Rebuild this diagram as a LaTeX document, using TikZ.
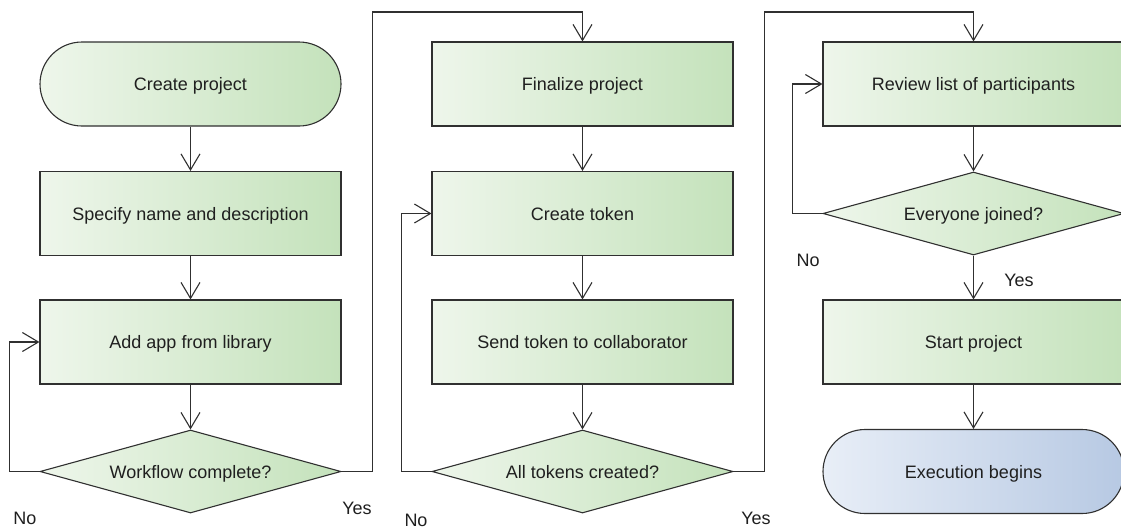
\documentclass[tikz,border=0pt]{standalone}
\usepackage{fontspec}
\setmainfont{Liberation Sans}
\usetikzlibrary{shapes.geometric,arrows.meta}
\definecolor{edge}{HTML}{303030}
\definecolor{gL}{HTML}{EEF6EB}
\definecolor{gR}{HTML}{C4E2BB}
\definecolor{bL}{HTML}{E8EEF7}
\definecolor{bR}{HTML}{B7C9E3}
\tikzset{
  base/.style={draw=edge, line width=1.1pt, font=\fontsize{18}{21}\selectfont,
    text=black!88, inner sep=0pt, text height=13pt, text depth=0pt},
  process/.style={base, rectangle, minimum width=301pt, minimum height=84pt,
    left color=gL, right color=gR},
  terminal/.style={base, rectangle, rounded corners=42pt, minimum width=301pt,
    minimum height=84pt, left color=gL, right color=gR},
  endterm/.style={terminal, left color=bL, right color=bR},
  decision/.style={base, diamond, aspect=3.63, minimum width=301pt,
    minimum height=83pt, left color=gL, right color=gR},
  flow/.style={draw=edge, line width=1.1pt,
    -{Straight Barb[length=16pt,width=19pt,line width=1.1pt]}},
  lbl/.style={font=\fontsize{18}{21}\selectfont, text=black!88, inner sep=0pt,
    text height=13pt, text depth=0pt}
}
\begin{document}
\begin{tikzpicture}[x=1pt, y=-1pt]
\useasboundingbox (0,0) rectangle (1121,528);
\clip (0,0) rectangle (1121,528);
\fill[white] (0,0) rectangle (1121,528);

% column 1
\node[terminal] (create) at (190.5,84) {Create project};
\node[process] (spec) at (190.5,213.5) {Specify name and description};
\node[process] (addapp) at (190.5,342) {Add app from library};
\node[decision] (wf) at (190.5,471.5) {Workflow complete?};

% column 2
\node[process] (final) at (582.5,84) {Finalize project};
\node[process] (token) at (582.5,213.5) {Create token};
\node[process] (send) at (582.5,342) {Send token to collaborator};
\node[decision] (alltok) at (582.5,471.5) {All tokens created?};

% column 3
\node[process] (review) at (973.5,84) {Review list of participants};
\node[decision] (joined) at (973.5,213.5) {Everyone joined?};
\node[process] (start) at (973.5,342) {Start project};
\node[endterm] (exec) at (973.5,471.5) {Execution begins};

% straight flow
\draw[flow] (create) -- (spec);
\draw[flow] (spec) -- (addapp);
\draw[flow] (addapp) -- (wf);
\draw[flow] (final) -- (token);
\draw[flow] (token) -- (send);
\draw[flow] (send) -- (alltok);
\draw[flow] (review) -- (joined);
\draw[flow] (joined) -- (start);
\draw[flow] (start) -- (exec);

% loops back on "No"
\draw[flow] (wf.west) -- ++(-30,0) |- (addapp.west);
\draw[flow] (alltok.west) -- ++(-30,0) |- (token.west);
\draw[flow] (joined.west) -- ++(-30,0) |- (review.west);

% "Yes" hand-over to the next column
\draw[flow] (wf.east) -- ++(31,0) -- ++(0,-459.5) -| (final.north);
\draw[flow] (alltok.east) -- ++(31,0) -- ++(0,-459.5) -| (review.north);

% branch labels
\node[lbl] (no1) at (25,518) {No};
\node[lbl] (yes1) at (357,508) {Yes};
\node[lbl] (no2) at (416,519.5) {No};
\node[lbl] (yes2) at (756,518) {Yes};
\node[lbl] (no3) at (808,260) {No};
\node[lbl] (yes3) at (1019,280) {Yes};
\end{tikzpicture}
\end{document}
